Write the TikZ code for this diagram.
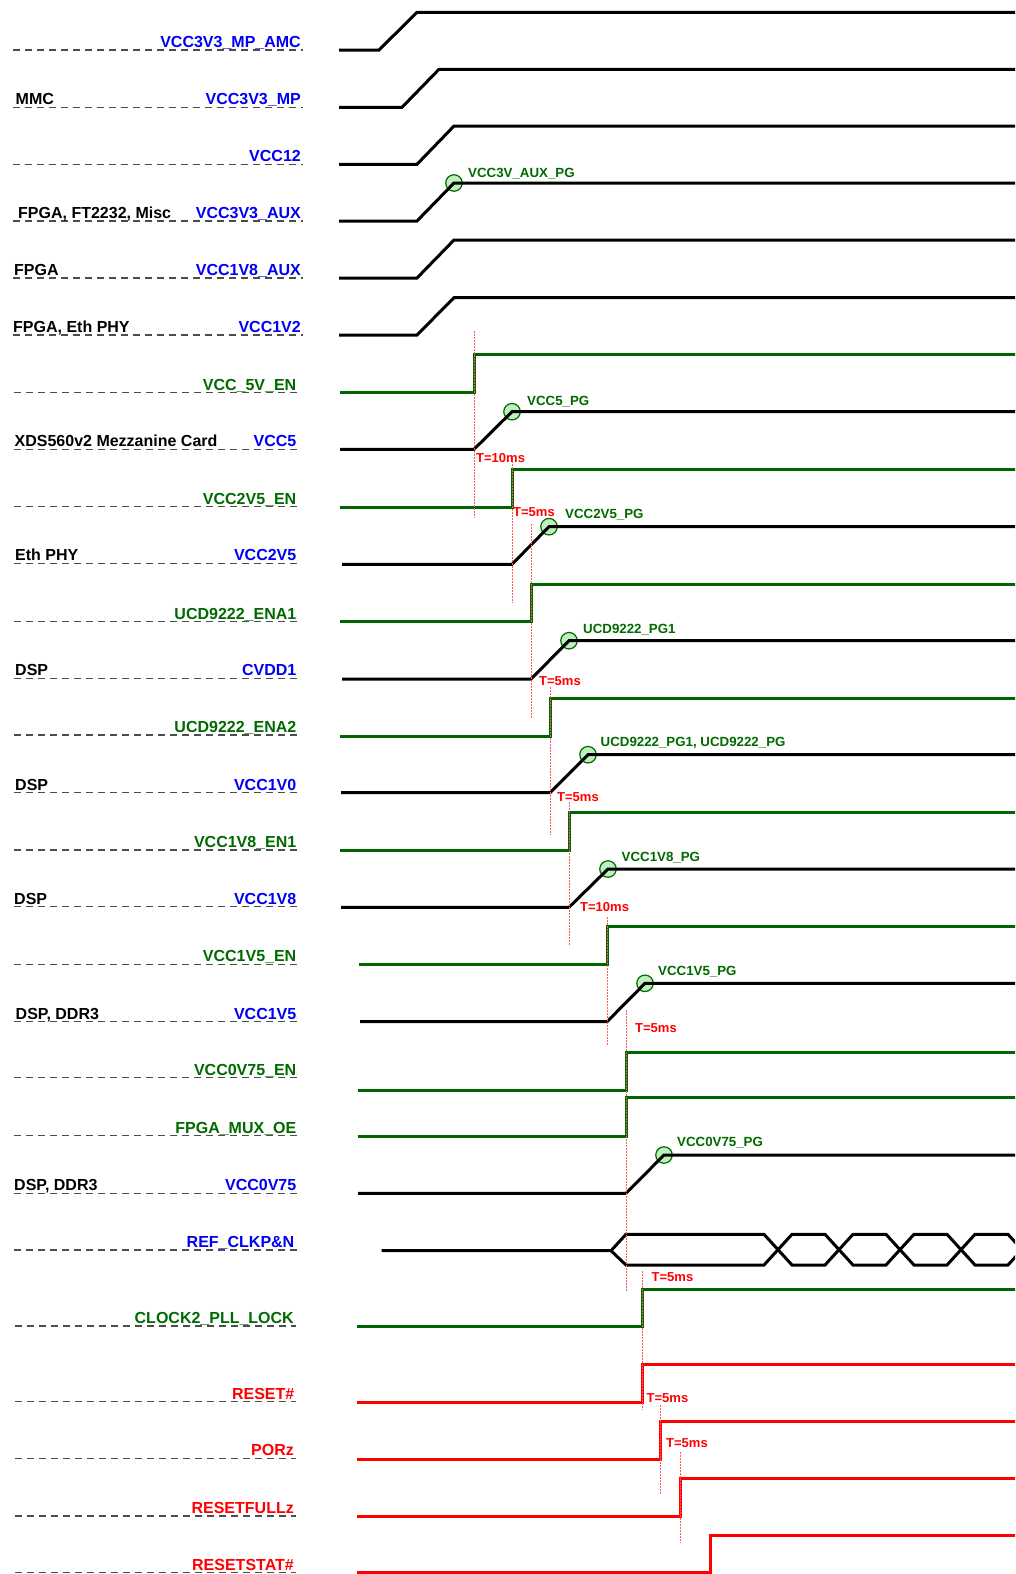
\documentclass[tikz,border=0pt]{standalone}
\usepackage{fontspec}
\setmainfont{Liberation Sans}
\definecolor{sgreen}{RGB}{0,100,0}
\definecolor{tgreen}{RGB}{0,105,0}
\definecolor{sred}{RGB}{255,0,0}
\definecolor{sblue}{RGB}{0,0,245}
\definecolor{dotred}{RGB}{255,90,90}
\definecolor{pgfill}{RGB}{190,240,190}
\tikzset{
 sig/.style={line width=3pt, draw=black},
 gsig/.style={line width=3pt, draw=sgreen},
 rsig/.style={line width=3pt, draw=sred},
 guide/.style={line width=1.2pt, draw=black!70, dash pattern=on 7pt off 5pt},
 tdot/.style={line width=0.9pt, draw=dotred, dash pattern=on 1.5pt off 1.5pt},
 lbl/.style={font=\fontsize{16}{19}\selectfont\bfseries, inner sep=0pt},
 rlbl/.style={lbl, anchor=base east},
 dlbl/.style={lbl, anchor=base west, text=black},
 pglbl/.style={font=\fontsize{13.3}{16}\selectfont\bfseries, text=tgreen, inner sep=0pt, anchor=west},
 tlbl/.style={font=\fontsize{13}{16}\selectfont\bfseries, text=sred, inner sep=0pt, anchor=west},
 pgc/.style={circle, draw=tgreen, fill=pgfill, line width=1.2pt, minimum size=16.5pt, inner sep=0pt},
}
\begin{document}
\begin{tikzpicture}[x=1pt,y=-1pt]
\useasboundingbox (0,0) rectangle (1015,1574);
\clip (0,0) rectangle (1015,1574);

% ---------- left guide lines ----------
\foreach \yy in {50,107.3,164.3,221,278,335}{\draw[guide] (13,\yy) -- (303,\yy);}
\foreach \yy in {392.7,449.3,506.7,563.3,621.7,678.3,735,792.7,850,906.7,964.3,1021.7,1077.7,1135.7,1193.3,1250}{\draw[guide] (14,\yy) -- (297.5,\yy);}
\foreach \yy in {1326,1401.7,1458.3,1516,1572.7}{\draw[guide] (15,\yy) -- (296,\yy);}

% ---------- signal names ----------
\node[rlbl, text=sblue] (n1) at (301,47.5) {VCC3V3\_MP\_AMC};
\node[rlbl, text=sblue] (n2) at (301,104.8) {VCC3V3\_MP};
\node[rlbl, text=sblue] (n3) at (301,161.8) {VCC12};
\node[rlbl, text=sblue] (n4) at (301,218.5) {VCC3V3\_AUX};
\node[rlbl, text=sblue] (n5) at (301,275.5) {VCC1V8\_AUX};
\node[rlbl, text=sblue] (n6) at (301,332.5) {VCC1V2};
\node[rlbl, text=tgreen] (n7) at (296.5,390.2) {VCC\_5V\_EN};
\node[rlbl, text=sblue] (n8) at (296.5,446.8) {VCC5};
\node[rlbl, text=tgreen] (n9) at (296.5,504.2) {VCC2V5\_EN};
\node[rlbl, text=sblue] (n10) at (296.5,560.8) {VCC2V5};
\node[rlbl, text=tgreen] (n11) at (296.5,619.2) {UCD9222\_ENA1};
\node[rlbl, text=sblue] (n12) at (296.5,675.8) {CVDD1};
\node[rlbl, text=tgreen] (n13) at (296.5,732.5) {UCD9222\_ENA2};
\node[rlbl, text=sblue] (n14) at (296.5,790.2) {VCC1V0};
\node[rlbl, text=tgreen] (n15) at (296.5,847.5) {VCC1V8\_EN1};
\node[rlbl, text=sblue] (n16) at (296.5,904.2) {VCC1V8};
\node[rlbl, text=tgreen] (n17) at (296.5,961.8) {VCC1V5\_EN};
\node[rlbl, text=sblue] (n18) at (296.5,1019.2) {VCC1V5};
\node[rlbl, text=tgreen] (n19) at (296.5,1075.2) {VCC0V75\_EN};
\node[rlbl, text=tgreen] (n20) at (296.5,1133.2) {FPGA\_MUX\_OE};
\node[rlbl, text=sblue] (n21) at (296.5,1190.8) {VCC0V75};
\node[rlbl, text=sblue] (n22) at (294.5,1247.5) {REF\_CLKP\&N};
\node[rlbl, text=tgreen] (n23) at (294,1323.5) {CLOCK2\_PLL\_LOCK};
\node[rlbl, text=sred] (n24) at (294.5,1399.2) {RESET\#};
\node[rlbl, text=sred] (n25) at (294,1455.8) {PORz};
\node[rlbl, text=sred] (n26) at (294,1513.5) {RESETFULLz};
\node[rlbl, text=sred] (n27) at (294,1570.2) {RESETSTAT\#};

% ---------- device names ----------
\node[dlbl] (d2) at (15.5,104.8) {MMC};
\node[dlbl] (d4) at (18,218.5) {FPGA, FT2232, Misc};
\node[dlbl] (d5) at (14,275.5) {FPGA};
\node[dlbl] (d6) at (13,332.5) {FPGA, Eth PHY};
\node[dlbl] (d8) at (14.5,446.8) {XDS560v2 Mezzanine Card};
\node[dlbl] (d10) at (15,560.8) {Eth PHY};
\node[dlbl] (d12) at (15,675.8) {DSP};
\node[dlbl] (d14) at (15,790.2) {DSP};
\node[dlbl] (d16) at (14,904.2) {DSP};
\node[dlbl] (d18) at (15.5,1019.2) {DSP, DDR3};
\node[dlbl] (d21) at (14,1190.8) {DSP, DDR3};

% ---------- power-good circles (under the waveforms) ----------
\node[pgc] (c4) at (454,183) {};
\node[pgc] (c8) at (512,411.7) {};
\node[pgc] (c10) at (549,526.7) {};
\node[pgc] (c12) at (569,640.7) {};
\node[pgc] (c14) at (588,754.7) {};
\node[pgc] (c16) at (608,869) {};
\node[pgc] (c18) at (645,983.3) {};
\node[pgc] (c21) at (664,1155) {};

% ---------- waveforms ----------
\draw[sig] (339,50) -- (379,50) -- (417,12.3) -- (1016,12.3);
\draw[sig] (339,107.3) -- (402,107.3) -- (439,69.3) -- (1016,69.3);
\draw[sig] (339,164.3) -- (417,164.3) -- (454,126) -- (1016,126);
\draw[sig] (339,221) -- (417,221) -- (c4.center) -- (1016,183);
\draw[sig] (339,278) -- (417,278) -- (454,240) -- (1016,240);
\draw[sig] (339,335) -- (417,335) -- (454,297.7) -- (1016,297.7);
\draw[gsig] (340,392.3) -- (474,392.3) -- (474,354.3) -- (1016,354.3);
\draw[sig] (340,449.3) -- (474,449.3) -- (c8.center) -- (1016,411.7);
\draw[gsig] (340,507.3) -- (512,507.3) -- (512,469.3) -- (1016,469.3);
\draw[sig] (342,564.3) -- (512,564.3) -- (c10.center) -- (1016,526.7);
\draw[gsig] (340,621.7) -- (531,621.7) -- (531,584) -- (1016,584);
\draw[sig] (342,679) -- (531,679) -- (c12.center) -- (1016,640.7);
\draw[gsig] (340,736) -- (550,736) -- (550,698.3) -- (1016,698.3);
\draw[sig] (341,792.7) -- (550,792.7) -- (c14.center) -- (1016,754.7);
\draw[gsig] (340,850) -- (569,850) -- (569,812.3) -- (1016,812.3);
\draw[sig] (341,907.3) -- (569,907.3) -- (c16.center) -- (1016,869);
\draw[gsig] (359,964.3) -- (607,964.3) -- (607,926.7) -- (1016,926.7);
\draw[sig] (360,1021.7) -- (607,1021.7) -- (c18.center) -- (1016,983.3);
\draw[gsig] (358,1090) -- (626,1090) -- (626,1052.3) -- (1016,1052.3);
\draw[gsig] (358,1136) -- (626,1136) -- (626,1097.7) -- (1016,1097.7);
\draw[sig] (358,1193.3) -- (626,1193.3) -- (c21.center) -- (1016,1155);
% clock bus
\coordinate (ck) at (611,1250.7);
\draw[sig] (381.7,1250.7) -- (ck) -- (626,1234.3) -- (764,1234.3) -- (792,1265) -- (825,1265) -- (853,1234.3) -- (886,1234.3) -- (914,1265) -- (947,1265) -- (975,1234.3) -- (1008,1234.3) -- (1036,1265);
\draw[sig] (ck) -- (626,1265) -- (764,1265) -- (792,1234.3) -- (825,1234.3) -- (853,1265) -- (886,1265) -- (914,1234.3) -- (947,1234.3) -- (975,1265) -- (1008,1265) -- (1036,1234.3);
\draw[gsig] (357,1326.7) -- (642,1326.7) -- (642,1289) -- (1016,1289);
\draw[rsig] (357,1402.3) -- (642,1402.3) -- (642,1364.3) -- (1016,1364.3);
\draw[rsig] (357,1459.3) -- (660,1459.3) -- (660,1421) -- (1016,1421);
\draw[rsig] (357,1516.7) -- (680,1516.7) -- (680,1478.3) -- (1016,1478.3);
\draw[rsig] (357,1572.7) -- (710,1572.7) -- (710,1535) -- (1016,1535);

% ---------- timing markers ----------
\draw[tdot] (474,331) -- (474,518);
\draw[tdot] (512,458) -- (512,603);
\draw[tdot] (531,524) -- (531,718);
\draw[tdot] (550,687) -- (550,835);
\draw[tdot] (569,802) -- (569,945);
\draw[tdot] (607,917) -- (607,1045);
\draw[tdot] (626,1010) -- (626,1292);
\draw[tdot] (642,1271) -- (642,1410);
\draw[tdot] (660.7,1405) -- (660.7,1494);
\draw[tdot] (680,1452) -- (680,1543);

\node[tlbl] (t1) at (476,458) {T=10ms};
\node[tlbl] (t2) at (513,512) {T=5ms};
\node[tlbl] (t3) at (539,681) {T=5ms};
\node[tlbl] (t4) at (557,797) {T=5ms};
\node[tlbl] (t5) at (580,907) {T=10ms};
\node[tlbl] (t6) at (635,1028) {T=5ms};
\node[tlbl] (t7) at (651.5,1276.7) {T=5ms};
\node[tlbl] (t8) at (646.5,1398.3) {T=5ms};
\node[tlbl] (t9) at (666,1443.3) {T=5ms};

% ---------- power-good labels ----------
\node[pglbl] (p4) at (468,173.3) {VCC3V\_AUX\_PG};
\node[pglbl] (p8) at (527,401.3) {VCC5\_PG};
\node[pglbl] (p10) at (565,515) {VCC2V5\_PG};
\node[pglbl] (p12) at (583,630) {UCD9222\_PG1};
\node[pglbl] (p14) at (600.5,743) {UCD9222\_PG1, UCD9222\_PG};
\node[pglbl] (p16) at (621.5,858) {VCC1V8\_PG};
\node[pglbl] (p18) at (658,971.7) {VCC1V5\_PG};
\node[pglbl] (p21) at (677,1142.7) {VCC0V75\_PG};
\end{tikzpicture}
\end{document}
